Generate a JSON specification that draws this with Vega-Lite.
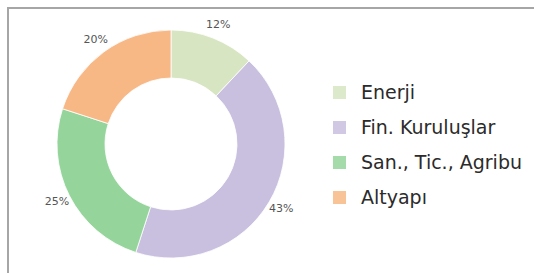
{
  "$schema": "https://vega.github.io/schema/vega-lite/v6.json",
  "autosize": "none",
  "width": 528,
  "height": 270,
  "padding": {"left": 8, "top": 8, "right": 0, "bottom": 0},
  "background": "white",
  "config": {
    "view": {"stroke": "#a6a6a6", "strokeWidth": 2},
    "font": "DejaVu Sans"
  },
  "data": {
    "values": [
      {"kategori": "Enerji", "pay": 12, "sira": 1, "etiket": "12%"},
      {"kategori": "Fin. Kuruluşlar", "pay": 43, "sira": 2, "etiket": "43%"},
      {"kategori": "San., Tic., Agribu", "pay": 25, "sira": 3, "etiket": "25%"},
      {"kategori": "Altyapı", "pay": 20, "sira": 4, "etiket": "20%"}
    ]
  },
  "layer": [
    {
      "mark": {"type": "point", "opacity": 0},
      "encoding": {
        "x": {"field": "sira", "type": "quantitative", "axis": null},
        "y": {"field": "pay", "type": "quantitative", "axis": null}
      }
    },
    {
      "mark": {"type": "arc", "x": 163, "y": 136, "outerRadius": 114, "innerRadius": 66, "stroke": "white", "strokeWidth": 0.8},
      "encoding": {
        "theta": {"field": "pay", "type": "quantitative", "stack": true},
        "order": {"field": "sira", "type": "quantitative"},
        "color": {
          "field": "kategori",
          "type": "nominal",
          "scale": {
            "domain": ["Enerji", "Fin. Kuruluşlar", "San., Tic., Agribu", "Altyapı"],
            "range": ["#d7e5c2", "#c9bfdf", "#95d49b", "#f8b886"]
          },
          "legend": {
            "title": null,
            "orient": "none",
            "legendX": 322,
            "legendY": 75,
            "symbolType": "square",
            "symbolSize": 170,
            "symbolOpacity": 0.85,
            "symbolStrokeWidth": 0,
            "labelFontSize": 19,
            "labelColor": "#2b2b2b",
            "labelFont": "DejaVu Sans",
            "labelOffset": 12,
            "rowPadding": 15,
            "labelLimit": 300
          }
        }
      }
    },
    {
      "mark": {"type": "text", "x": 163, "y": 136, "radius": 128, "fontSize": 11, "font": "DejaVu Sans"},
      "encoding": {
        "theta": {"field": "pay", "type": "quantitative", "stack": true},
        "order": {"field": "sira", "type": "quantitative"},
        "text": {"field": "etiket", "type": "nominal"},
        "color": {"value": "#555555"}
      }
    }
  ]
}
